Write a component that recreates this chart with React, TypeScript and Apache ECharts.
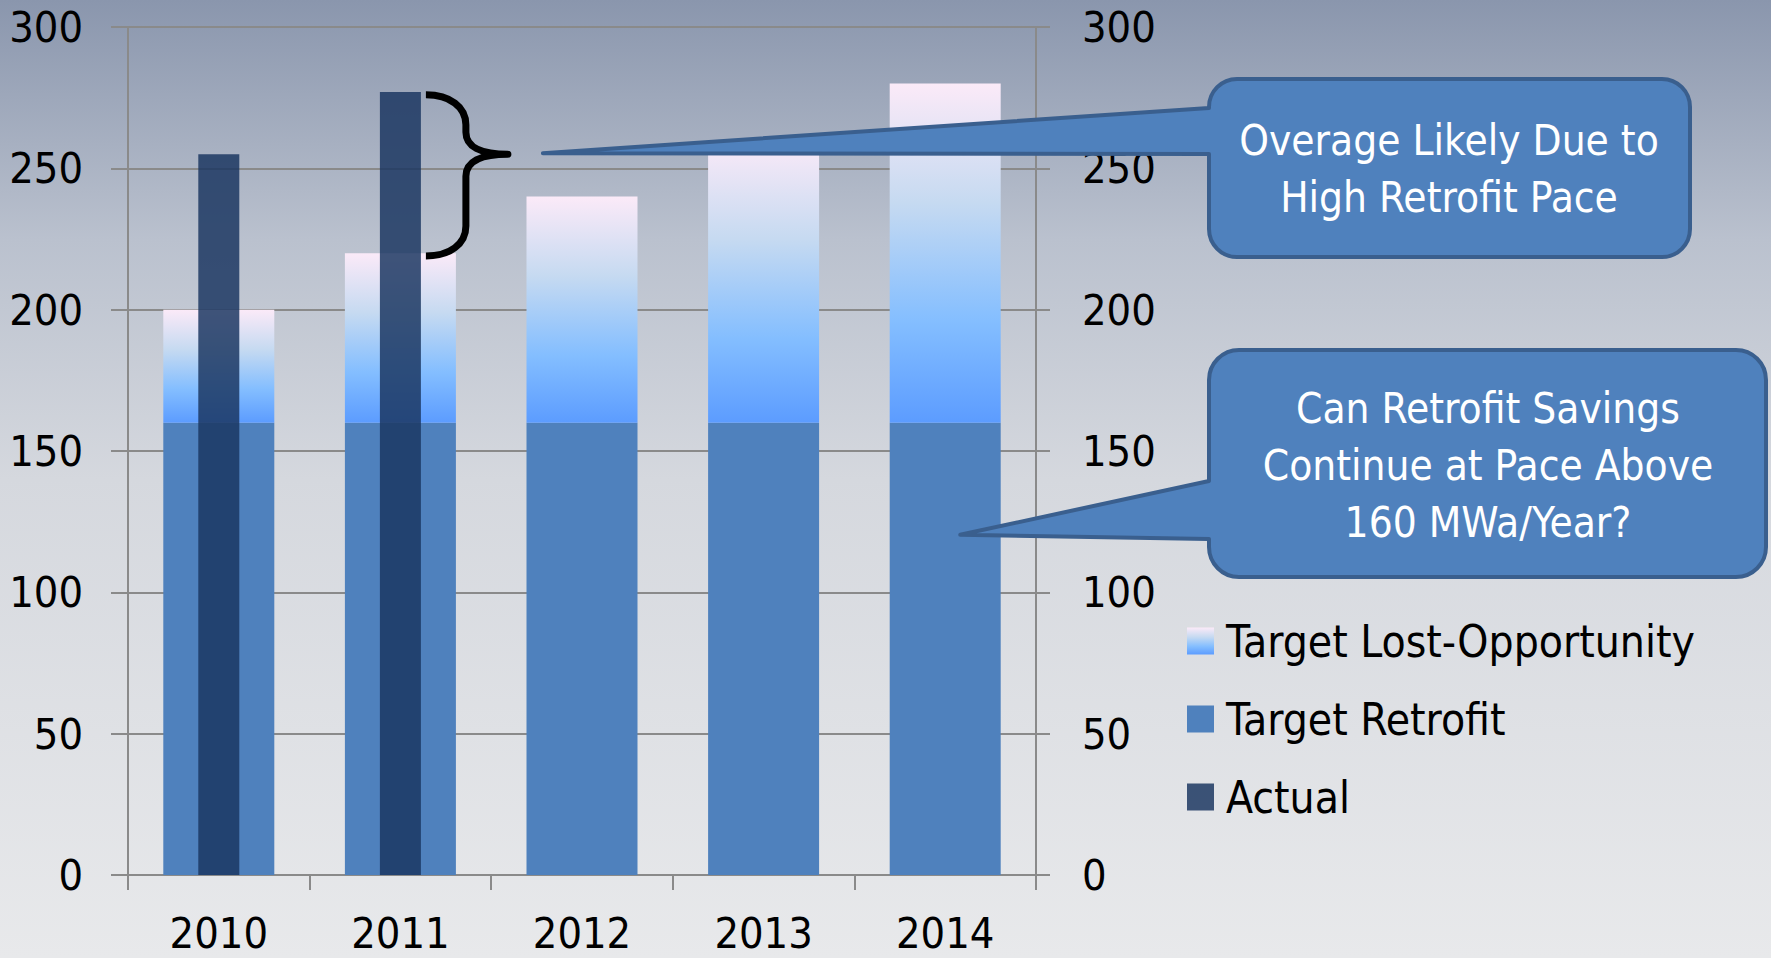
import React, { useEffect, useRef } from "react";
import * as echarts from "echarts";

const years = ["2010", "2011", "2012", "2013", "2014"];
const targetRetrofit = [160, 160, 160, 160, 160];
const targetLostOpportunity = [40, 60, 80, 100, 120];
const actual: (number | null)[] = [255, 277, null, null, null];
const yMin = 0;
const yMax = 300;
const yInterval = 50;
const legendNames = ["Target Lost-Opportunity", "Target Retrofit", "Actual"];
const calloutOverage = ["Overage Likely Due to", "High Retrofit Pace"];
const calloutRetrofit = ["Can Retrofit Savings", "Continue at Pace Above", "160 MWa/Year?"];
// brace spans Actual 2011 top to target 2011 top
const braceTopValue = 276;
const braceBottomValue = 219;
const braceTipValue = 255;
const retrofitPointerValue = 120;

const FONT = "'Liberation Sans Narrow','DejaVu Sans Condensed','Roboto Condensed','Liberation Sans',sans-serif";
const GRID_COLOR = "#8a8a8a";

function roundedCallout(x1: number, y1: number, x2: number, y2: number, r: number, ya: number, yb: number, tx: number, ty: number) {
  return (
    `M${x1 + r},${y1} L${x2 - r},${y1} A${r},${r} 0 0 1 ${x2},${y1 + r} ` +
    `L${x2},${y2 - r} A${r},${r} 0 0 1 ${x2 - r},${y2} L${x1 + r},${y2} ` +
    `A${r},${r} 0 0 1 ${x1},${y2 - r} L${x1},${yb} L${tx},${ty} L${x1},${ya} ` +
    `L${x1},${y1 + r} A${r},${r} 0 0 1 ${x1 + r},${y1} Z`
  );
}

export default function App() {
  const ref = useRef<HTMLDivElement>(null);

  useEffect(() => {
    document.body.style.margin = "0";
    const chart = echarts.init(ref.current!, null, { renderer: "svg" });

    const lostGradient = new echarts.graphic.LinearGradient(0, 0, 0, 1, [
      { offset: 0, color: "#FBEAF8" },
      { offset: 0.35, color: "#C6DAF1" },
      { offset: 0.7, color: "#84BEFF" },
      { offset: 1, color: "#5C9CFF" },
    ]);

    const option: any = {
      animation: false,
      backgroundColor: new echarts.graphic.LinearGradient(0, 0, 0, 1, [
        { offset: 0, color: "#8A96AD" },
        { offset: 0.25, color: "#BAC1CE" },
        { offset: 0.5, color: "#D5D8DE" },
        { offset: 1, color: "#E8E9EB" },
      ]),
      textStyle: { fontFamily: FONT },
      grid: { left: 128, right: 735, top: 27, bottom: 83 },
      legend: {
        orient: "vertical",
        left: 1187,
        top: 618,
        padding: 0,
        itemWidth: 27,
        itemHeight: 27,
        itemGap: 32,
        icon: "rect",
        data: legendNames,
        textStyle: { fontFamily: FONT, fontSize: 44, color: "#000", lineHeight: 46, padding: [0, 0, 0, 7] },
      },
      xAxis: [
        {
          type: "category",
          data: years,
          axisLine: { lineStyle: { color: GRID_COLOR, width: 2 } },
          axisTick: { show: true, length: 15, alignWithLabel: false, lineStyle: { color: GRID_COLOR, width: 2 } },
          axisLabel: { fontSize: 43, color: "#000", margin: 36, fontFamily: FONT, interval: 0 },
        },
        { type: "category", data: years, show: false },
      ],
      yAxis: [
        {
          type: "value",
          min: yMin,
          max: yMax,
          interval: yInterval,
          axisLine: { show: true, lineStyle: { color: GRID_COLOR, width: 2 } },
          axisTick: { show: true, length: 17, lineStyle: { color: GRID_COLOR, width: 2 } },
          splitLine: { show: true, lineStyle: { color: GRID_COLOR, width: 2 } },
          axisLabel: { fontSize: 43, color: "#000", margin: 45, fontFamily: FONT },
        },
        {
          type: "value",
          min: yMin,
          max: yMax,
          interval: yInterval,
          position: "right",
          axisLine: { show: true, lineStyle: { color: GRID_COLOR, width: 2 } },
          axisTick: { show: true, length: 14, lineStyle: { color: GRID_COLOR, width: 2 } },
          splitLine: { show: false },
          axisLabel: { fontSize: 43, color: "#000", margin: 46, fontFamily: FONT },
        },
      ],
      series: [
        {
          name: "Target Retrofit",
          type: "bar",
          stack: "target",
          xAxisIndex: 0,
          yAxisIndex: 0,
          data: targetRetrofit,
          barWidth: 111,
          itemStyle: { color: "#4F81BD" },
        },
        {
          name: "Target Lost-Opportunity",
          type: "bar",
          stack: "target",
          xAxisIndex: 0,
          yAxisIndex: 0,
          data: targetLostOpportunity,
          barWidth: 111,
          itemStyle: { color: lostGradient },
        },
        {
          name: "Actual",
          type: "bar",
          xAxisIndex: 1,
          yAxisIndex: 0,
          data: actual,
          barWidth: 41,
          itemStyle: { color: "rgba(26,54,96,0.84)" },
        },
      ],
    };
    chart.setOption(option);

    const toPx = (catIdx: number, v: number) =>
      chart.convertToPixel({ gridIndex: 0 }, [catIdx, v]) as number[];

    // brace near 2011
    const [cx2011, yTop] = toPx(1, braceTopValue);
    const yBot = toPx(1, braceBottomValue)[1];
    const yMid = toPx(1, braceTipValue)[1];
    const bl = cx2011 + 41 / 2 + 5;
    const bm = bl + 40;
    const bt = bl + 82;
    const braceD =
      `M${bl},${yTop} C${bl + 24},${yTop} ${bm},${yTop + 12} ${bm},${yTop + 30} ` +
      `L${bm},${yMid - 22} C${bm},${yMid - 8} ${bm + 14},${yMid} ${bt},${yMid} ` +
      `C${bm + 14},${yMid} ${bm},${yMid + 8} ${bm},${yMid + 22} ` +
      `L${bm},${yBot - 30} C${bm},${yBot - 12} ${bl + 24},${yBot} ${bl},${yBot}`;

    const tip1x = bl + 117;
    const tip1y = yMid - 1;
    const [cx2014, y120] = toPx(4, retrofitPointerValue);
    const tip2x = cx2014 + 15;
    const tip2y = y120 - 1;

    const c1 = roundedCallout(1209, 79, 1690, 257, 28, 108, 154, tip1x, tip1y);
    const c2 = roundedCallout(1209, 350, 1766, 577, 30, 481, 539, tip2x, tip2y);

    echarts.graphic.registerShape("braceShape", echarts.graphic.extendPath(braceD, {}));
    echarts.graphic.registerShape("calloutOne", echarts.graphic.extendPath(c1, {}));
    echarts.graphic.registerShape("calloutTwo", echarts.graphic.extendPath(c2, {}));

    const textEl = (t: string, x: number, y: number) => ({
      type: "text",
      z: 110,
      style: {
        text: t,
        x,
        y,
        fill: "#fff",
        fontSize: 42,
        fontFamily: FONT,
        textAlign: "center",
        textVerticalAlign: "middle",
      },
    });

    chart.setOption({
      graphic: [
        {
          type: "braceShape",
          z: 100,
          style: { fill: "none", stroke: "#000", lineWidth: 7, lineCap: "butt", lineJoin: "round" },
        },
        {
          type: "calloutOne",
          z: 100,
          style: { fill: "#4F81BD", stroke: "#3A5F8E", lineWidth: 4, lineJoin: "round" },
        },
        {
          type: "calloutTwo",
          z: 100,
          style: { fill: "#4F81BD", stroke: "#3A5F8E", lineWidth: 4, lineJoin: "round" },
        },
        ...calloutOverage.map((t, i) => textEl(t, 1449, 140 + i * 57)),
        ...calloutRetrofit.map((t, i) => textEl(t, 1488, 408 + i * 57)),
      ],
    });

    return () => chart.dispose();
  }, []);

  return <div ref={ref} style={{ width: 1771, height: 958 }} />;
}
